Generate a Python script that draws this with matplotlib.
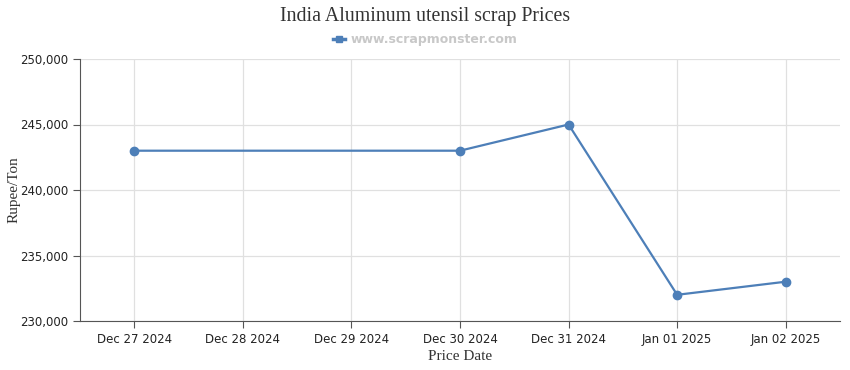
import numpy as np
import matplotlib
matplotlib.use('Agg')
import matplotlib.pyplot as plt
from matplotlib.lines import Line2D
from matplotlib.ticker import FuncFormatter

# all the dates on the axis, and the days that actually have a price
tick_dates = ['Dec 27 2024', 'Dec 28 2024', 'Dec 29 2024', 'Dec 30 2024',
              'Dec 31 2024', 'Jan 01 2025', 'Jan 02 2025']
price_dates = ['Dec 27 2024', 'Dec 30 2024', 'Dec 31 2024', 'Jan 01 2025', 'Jan 02 2025']
prices = [243000, 243000, 245000, 232000, 233000]

blue = '#4d7fb8'

fig = plt.figure(figsize = (8.5, 3.7), dpi = 100)
ax = fig.add_axes([80 / 850, 1 - 321 / 370, 760 / 850, 262 / 370])

x = [tick_dates.index(d) for d in price_dates]
ax.plot(x, prices, color = blue, linewidth = 1.6, marker = 'o', markersize = 6, zorder = 3)

ax.set_xlim(-0.5, len(tick_dates) - 0.5)
ax.set_ylim(230000, 250000)
ax.set_xticks(range(len(tick_dates)))
ax.set_xticklabels(tick_dates)
ax.set_yticks(np.arange(230000, 250001, 5000))
ax.yaxis.set_major_formatter(FuncFormatter(lambda v, p: f'{int(v):,}'))

ax.grid(True, color = '#e0e0e0', linewidth = 0.9)
ax.set_axisbelow(True)
for side in ['top', 'right']:
    ax.spines[side].set_visible(False)
for side in ['left', 'bottom']:
    ax.spines[side].set_color('#555555')
ax.tick_params(axis = 'both', labelsize = 8.5, colors = '#222222', length = 5, width = 0.8)
ax.tick_params(axis = 'both', color = '#555555')

ax.set_xlabel('Price Date', fontsize = 11, family = 'Liberation Serif', color = '#333333', labelpad = 3)
ax.set_ylabel('Rupee/Ton', fontsize = 11, family = 'Liberation Serif', color = '#333333')
ax.yaxis.set_label_coords(-0.078, 0.5)

fig.text(0.5, 0.955, 'India Aluminum utensil scrap Prices', ha = 'center', va = 'center',
         fontsize = 14.3, family = 'Liberation Serif', color = '#333333')
handle = Line2D([], [], color = blue, marker = 's', markersize = 4, linewidth = 2.5)
fig.legend([handle], ['www.scrapmonster.com'], loc = 'center', bbox_to_anchor = (0.5, 0.893),
           frameon = False, handlelength = 1.0, handletextpad = 0.4,
           prop = {'size': 9, 'weight': 'bold'}, labelcolor = '#c8c8c8')

fig.savefig('out.png', dpi = 100)
